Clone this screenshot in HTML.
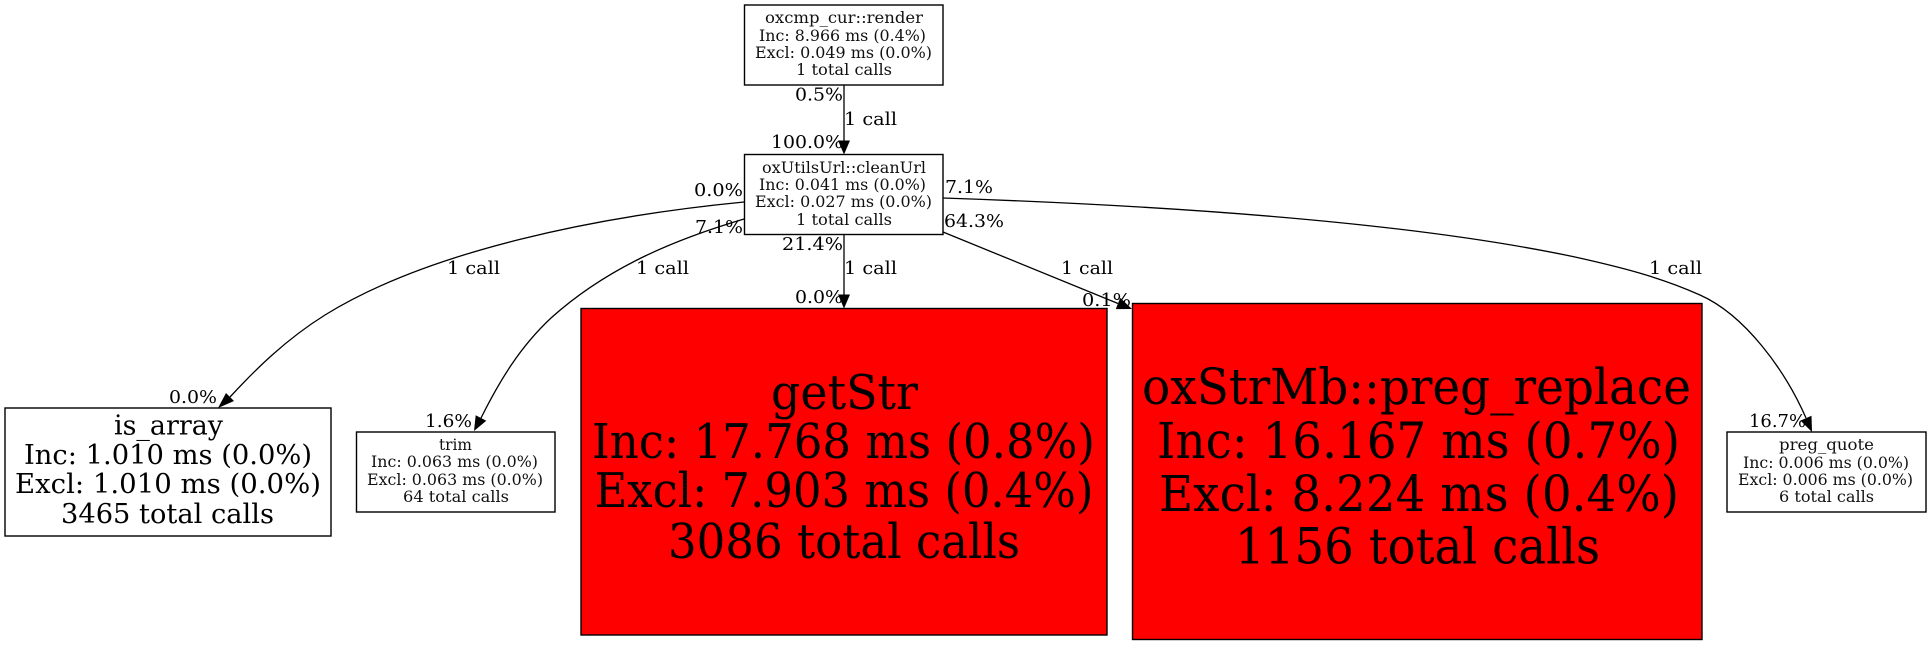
<!DOCTYPE html>
<html><head><meta charset="utf-8"><style>
html,body{margin:0;padding:0;background:#fff;width:1932px;height:645px;overflow:hidden}
svg{display:block}
text{font-family:"DejaVu Serif","Liberation Serif",serif;fill:#000}
.l{font-size:18px}.s{font-size:15.8px;fill:#111}.m{font-size:27.3px}.b{font-size:47.5px}.r{font-size:49.4px}
path.e{fill:none;stroke:#000;stroke-width:1.3}
rect{stroke:#000;stroke-width:1.4}
</style></head><body>
<svg width="1932" height="645" viewBox="0 0 1932 645" xmlns="http://www.w3.org/2000/svg">
<rect x="744.5" y="5" width="198.5" height="80" fill="#fff"/>
<rect x="744.5" y="154.5" width="198.5" height="80" fill="#fff"/>
<rect x="5" y="408" width="326" height="128" fill="#fff"/>
<rect x="356.5" y="432" width="198.5" height="80" fill="#fff"/>
<rect x="581" y="308.5" width="526" height="326.5" fill="#f00"/>
<rect x="1132.5" y="303.5" width="569.5" height="336" fill="#f00"/>
<rect x="1727" y="432" width="199" height="80" fill="#fff"/>

<path class="e" d="M844,85 V141"/><polygon points="838,140.5 850,140.5 844,154.5"/>
<path class="e" d="M844,234.5 V295"/><polygon points="838,294.5 850,294.5 844,308.5"/>
<path class="e" d="M744,202 C600,216 430,250 325,315 C285,340 255,370 230,397"/>
<polygon points="234,401 226,393 218,408"/>
<path class="e" d="M744,219 C680,238 610,265 551,318 C520,347 500,380 481,418"/>
<polygon points="486.3,420.8 475.7,415.2 474,431"/>
<path class="e" d="M943,232 L1118,303.5"/><polygon points="1120.2,297.9 1115.8,309.1 1132,309"/>
<path class="e" d="M943,198 C1150,205 1400,220 1575,257 C1620,267 1660,277 1700,295 C1745,315 1785,370 1806,418"/>
<polygon points="1811.5,415.8 1800.5,420.6 1812,432"/>

<text class="s" x="765" y="23" textLength="158" lengthAdjust="spacingAndGlyphs">oxcmp_cur::render</text>
<text class="s" x="759" y="41" textLength="167" lengthAdjust="spacingAndGlyphs">Inc: 8.966 ms (0.4%)</text>
<text class="s" x="755" y="58" textLength="177" lengthAdjust="spacingAndGlyphs">Excl: 0.049 ms (0.0%)</text>
<text class="s" x="796" y="75" textLength="96" lengthAdjust="spacingAndGlyphs">1 total calls</text>

<text class="s" x="762" y="173" textLength="164" lengthAdjust="spacingAndGlyphs">oxUtilsUrl::cleanUrl</text>
<text class="s" x="759" y="190" textLength="167" lengthAdjust="spacingAndGlyphs">Inc: 0.041 ms (0.0%)</text>
<text class="s" x="755" y="207" textLength="177" lengthAdjust="spacingAndGlyphs">Excl: 0.027 ms (0.0%)</text>
<text class="s" x="796" y="225" textLength="96" lengthAdjust="spacingAndGlyphs">1 total calls</text>

<text class="m" x="114" y="434.5" textLength="109" lengthAdjust="spacingAndGlyphs">is_array</text>
<text class="m" x="24" y="464" textLength="288" lengthAdjust="spacingAndGlyphs">Inc: 1.010 ms (0.0%)</text>
<text class="m" x="15" y="493" textLength="306" lengthAdjust="spacingAndGlyphs">Excl: 1.010 ms (0.0%)</text>
<text class="m" x="61" y="523" textLength="213" lengthAdjust="spacingAndGlyphs">3465 total calls</text>

<text class="s" x="439" y="450" textLength="33" lengthAdjust="spacingAndGlyphs">trim</text>
<text class="s" x="371" y="467" textLength="167" lengthAdjust="spacingAndGlyphs">Inc: 0.063 ms (0.0%)</text>
<text class="s" x="367" y="485" textLength="176" lengthAdjust="spacingAndGlyphs">Excl: 0.063 ms (0.0%)</text>
<text class="s" x="403" y="502" textLength="106" lengthAdjust="spacingAndGlyphs">64 total calls</text>

<text class="b" x="771" y="409" textLength="147" lengthAdjust="spacingAndGlyphs">getStr</text>
<text class="b" x="592" y="458" textLength="503" lengthAdjust="spacingAndGlyphs">Inc: 17.768 ms (0.8%)</text>
<text class="b" x="594.5" y="507" textLength="499" lengthAdjust="spacingAndGlyphs">Excl: 7.903 ms (0.4%)</text>
<text class="b" x="668" y="558" textLength="352" lengthAdjust="spacingAndGlyphs">3086 total calls</text>

<text class="r" x="1142" y="404" textLength="549" lengthAdjust="spacingAndGlyphs">oxStrMb::preg_replace</text>
<text class="r" x="1157" y="458" textLength="523" lengthAdjust="spacingAndGlyphs">Inc: 16.167 ms (0.7%)</text>
<text class="r" x="1159" y="511" textLength="520" lengthAdjust="spacingAndGlyphs">Excl: 8.224 ms (0.4%)</text>
<text class="r" x="1235" y="563.5" textLength="365" lengthAdjust="spacingAndGlyphs">1156 total calls</text>

<text class="s" x="1779" y="450" textLength="95" lengthAdjust="spacingAndGlyphs">preg_quote</text>
<text class="s" x="1743" y="468" textLength="166" lengthAdjust="spacingAndGlyphs">Inc: 0.006 ms (0.0%)</text>
<text class="s" x="1738" y="485" textLength="175" lengthAdjust="spacingAndGlyphs">Excl: 0.006 ms (0.0%)</text>
<text class="s" x="1779" y="502" textLength="95" lengthAdjust="spacingAndGlyphs">6 total calls</text>

<text class="l" x="795" y="100.5" textLength="48" lengthAdjust="spacingAndGlyphs">0.5%</text>
<text class="l" x="844" y="125" textLength="53" lengthAdjust="spacingAndGlyphs">1 call</text>
<text class="l" x="771" y="148" textLength="72" lengthAdjust="spacingAndGlyphs">100.0%</text>
<text class="l" x="694" y="196" textLength="49" lengthAdjust="spacingAndGlyphs">0.0%</text>
<text class="l" x="695" y="233" textLength="48" lengthAdjust="spacingAndGlyphs">7.1%</text>
<text class="l" x="945" y="193" textLength="48" lengthAdjust="spacingAndGlyphs">7.1%</text>
<text class="l" x="944" y="227" textLength="60" lengthAdjust="spacingAndGlyphs">64.3%</text>
<text class="l" x="782" y="250" textLength="61" lengthAdjust="spacingAndGlyphs">21.4%</text>
<text class="l" x="844" y="274" textLength="53" lengthAdjust="spacingAndGlyphs">1 call</text>
<text class="l" x="795" y="303" textLength="48" lengthAdjust="spacingAndGlyphs">0.0%</text>
<text class="l" x="1061" y="274" textLength="52" lengthAdjust="spacingAndGlyphs">1 call</text>
<text class="l" x="1082" y="306" textLength="49" lengthAdjust="spacingAndGlyphs">0.1%</text>
<text class="l" x="447" y="274" textLength="53" lengthAdjust="spacingAndGlyphs">1 call</text>
<text class="l" x="636" y="274" textLength="53" lengthAdjust="spacingAndGlyphs">1 call</text>
<text class="l" x="169" y="403" textLength="48" lengthAdjust="spacingAndGlyphs">0.0%</text>
<text class="l" x="425" y="427" textLength="47" lengthAdjust="spacingAndGlyphs">1.6%</text>
<text class="l" x="1649" y="274" textLength="53" lengthAdjust="spacingAndGlyphs">1 call</text>
<text class="l" x="1749" y="427" textLength="57" lengthAdjust="spacingAndGlyphs">16.7%</text>
</svg>
</body></html>
